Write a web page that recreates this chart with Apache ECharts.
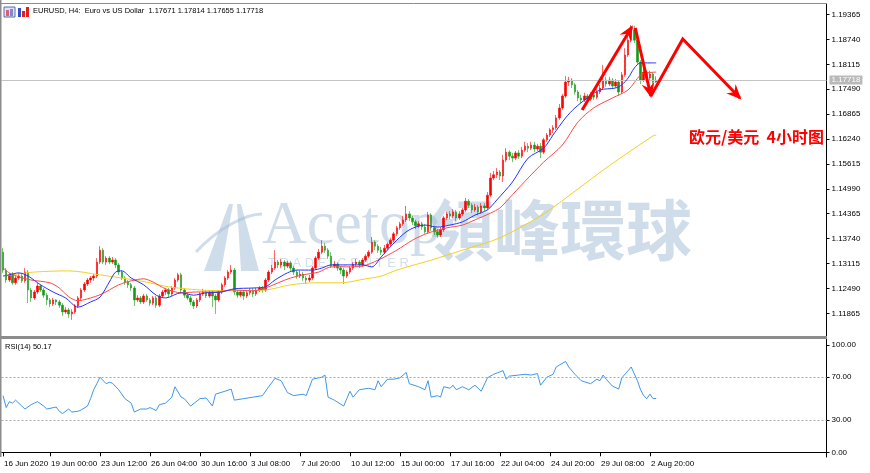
<!DOCTYPE html>
<html><head><meta charset="utf-8">
<script src="https://cdn.jsdelivr.net/npm/echarts@6/dist/echarts.min.js"></script>
<style>html,body{margin:0;padding:0;background:#fff}#c{width:870px;height:473px}</style>
</head><body><div id="c"></div>
<script>
// ---- tick labels ----
const priceTicks = [1.11865,1.12490,1.13115,1.13740,1.14365,1.14990,1.15615,1.16240,1.16865,1.17490,1.18115,1.18740,1.19365];
const rsiTicks = [0,30,70,100];
const rsiLevels = [30,70];
const timeLabels = [[0,'16 Jun 2020'],[15,'19 Jun 00:00'],[31,'23 Jun 12:00'],[47,'26 Jun 04:00'],[63,'30 Jun 16:00'],[79,'3 Jul 08:00'],[95,'7 Jul 20:00'],[111,'10 Jul 12:00'],[127,'15 Jul 00:00'],[143,'17 Jul 16:00'],[159,'22 Jul 04:00'],[175,'24 Jul 20:00'],[191,'29 Jul 08:00'],[207,'2 Aug 20:00']];
const slotCount = 264; // bar slots on the time axis incl. right margin
const lastQuote = {open:1.17671, high:1.17814, low:1.17655, close:1.17718};
const rsiLast = 50.17;
// ---- H4 candles [open, close, low, high] ----
const candles = [
[1.1340,1.1295,1.1288,1.1350],[1.1295,1.1270,1.1263,1.1300],[1.1270,1.1283,1.1265,1.1288],[1.1283,1.1263,1.1258,1.1290],[1.1263,1.1275,1.1258,1.1280],
[1.1275,1.1280,1.1270,1.1288],[1.1280,1.1268,1.1263,1.1285],[1.1268,1.1290,1.1263,1.1300],[1.1290,1.1245,1.1212,1.1295],[1.1245,1.1225,1.1215,1.1250],
[1.1225,1.1240,1.1220,1.1245],[1.1240,1.1255,1.1235,1.1263],[1.1255,1.1245,1.1240,1.1260],[1.1245,1.1232,1.1225,1.1250],[1.1232,1.1220,1.1207,1.1238],
[1.1220,1.1210,1.1202,1.1225],[1.1210,1.1220,1.1205,1.1225],[1.1220,1.1215,1.1207,1.1222],[1.1215,1.1207,1.1200,1.1220],[1.1207,1.1190,1.1180,1.1212],
[1.1190,1.1195,1.1185,1.1202],[1.1195,1.1185,1.1175,1.1200],[1.1185,1.1190,1.1170,1.1197],[1.1190,1.1205,1.1185,1.1210],[1.1205,1.1225,1.1200,1.1230],
[1.1225,1.1245,1.1220,1.1250],[1.1245,1.1260,1.1240,1.1265],[1.1260,1.1270,1.1255,1.1275],[1.1270,1.1275,1.1263,1.1280],[1.1275,1.1280,1.1268,1.1285],
[1.1280,1.1315,1.1275,1.1325],[1.1315,1.1345,1.1310,1.1355],[1.1345,1.1315,1.1310,1.1350],[1.1315,1.1325,1.1308,1.1330],[1.1325,1.1315,1.1310,1.1330],
[1.1315,1.1320,1.1310,1.1328],[1.1320,1.1308,1.1300,1.1325],[1.1308,1.1290,1.1283,1.1313],[1.1290,1.1275,1.1270,1.1295],[1.1275,1.1265,1.1258,1.1280],
[1.1265,1.1258,1.1250,1.1270],[1.1258,1.1250,1.1243,1.1263],[1.1250,1.1220,1.1205,1.1255],[1.1220,1.1225,1.1215,1.1232],[1.1225,1.1215,1.1210,1.1230],
[1.1215,1.1230,1.1210,1.1235],[1.1230,1.1220,1.1215,1.1235],[1.1220,1.1212,1.1205,1.1225],[1.1212,1.1225,1.1207,1.1230],[1.1225,1.1207,1.1200,1.1230],
[1.1207,1.1230,1.1202,1.1235],[1.1230,1.1240,1.1225,1.1245],[1.1240,1.1245,1.1232,1.1250],[1.1245,1.1235,1.1227,1.1250],[1.1235,1.1250,1.1230,1.1255],
[1.1250,1.1270,1.1245,1.1275],[1.1270,1.1283,1.1265,1.1288],[1.1283,1.1245,1.1238,1.1288],[1.1245,1.1232,1.1225,1.1250],[1.1232,1.1225,1.1220,1.1238],
[1.1225,1.1215,1.1207,1.1230],[1.1215,1.1205,1.1197,1.1220],[1.1205,1.1220,1.1200,1.1225],[1.1220,1.1235,1.1215,1.1240],[1.1235,1.1240,1.1230,1.1248],
[1.1240,1.1230,1.1225,1.1245],[1.1230,1.1238,1.1225,1.1245],[1.1238,1.1230,1.1202,1.1243],[1.1230,1.1220,1.1185,1.1235],[1.1220,1.1240,1.1215,1.1245],
[1.1240,1.1258,1.1235,1.1263],[1.1258,1.1275,1.1253,1.1280],[1.1275,1.1290,1.1270,1.1295],[1.1290,1.1295,1.1285,1.1308],[1.1295,1.1240,1.1232,1.1300],
[1.1240,1.1232,1.1225,1.1245],[1.1232,1.1240,1.1227,1.1245],[1.1240,1.1230,1.1220,1.1245],[1.1230,1.1238,1.1225,1.1243],[1.1238,1.1245,1.1232,1.1250],
[1.1245,1.1235,1.1227,1.1250],[1.1235,1.1245,1.1230,1.1250],[1.1245,1.1250,1.1240,1.1255],[1.1250,1.1245,1.1238,1.1255],[1.1245,1.1270,1.1240,1.1275],
[1.1270,1.1290,1.1265,1.1295],[1.1290,1.1300,1.1285,1.1308],[1.1300,1.1315,1.1295,1.1345],[1.1315,1.1308,1.1300,1.1320],[1.1308,1.1315,1.1300,1.1323],
[1.1315,1.1305,1.1295,1.1320],[1.1305,1.1313,1.1300,1.1318],[1.1313,1.1300,1.1293,1.1318],[1.1300,1.1290,1.1283,1.1305],[1.1290,1.1280,1.1273,1.1295],
[1.1280,1.1285,1.1275,1.1293],[1.1285,1.1275,1.1268,1.1290],[1.1275,1.1270,1.1260,1.1280],[1.1270,1.1275,1.1265,1.1283],[1.1275,1.1300,1.1270,1.1305],
[1.1300,1.1325,1.1295,1.1330],[1.1325,1.1340,1.1320,1.1348],[1.1340,1.1355,1.1335,1.1370],[1.1355,1.1345,1.1338,1.1363],[1.1345,1.1330,1.1323,1.1350],
[1.1330,1.1305,1.1300,1.1340],[1.1305,1.1310,1.1300,1.1318],[1.1310,1.1300,1.1293,1.1315],[1.1300,1.1295,1.1285,1.1305],[1.1295,1.1280,1.1260,1.1300],
[1.1280,1.1290,1.1275,1.1295],[1.1290,1.1300,1.1285,1.1305],[1.1300,1.1310,1.1295,1.1315],[1.1310,1.1315,1.1303,1.1323],[1.1315,1.1308,1.1300,1.1320],
[1.1308,1.1320,1.1303,1.1325],[1.1320,1.1330,1.1315,1.1335],[1.1330,1.1340,1.1325,1.1345],[1.1340,1.1365,1.1335,1.1378],[1.1365,1.1355,1.1345,1.1370],
[1.1355,1.1345,1.1338,1.1360],[1.1345,1.1340,1.1333,1.1353],[1.1340,1.1350,1.1335,1.1358],[1.1350,1.1360,1.1345,1.1365],[1.1360,1.1370,1.1355,1.1376],
[1.1370,1.1386,1.1365,1.1391],[1.1386,1.1401,1.1381,1.1406],[1.1401,1.1411,1.1396,1.1416],[1.1411,1.1421,1.1406,1.1431],[1.1421,1.1436,1.1416,1.1456],
[1.1436,1.1426,1.1418,1.1443],[1.1426,1.1416,1.1408,1.1431],[1.1416,1.1406,1.1398,1.1421],[1.1406,1.1411,1.1401,1.1418],[1.1411,1.1403,1.1396,1.1416],
[1.1403,1.1391,1.1386,1.1411],[1.1391,1.1433,1.1386,1.1441],[1.1433,1.1401,1.1393,1.1438],[1.1401,1.1391,1.1383,1.1406],[1.1391,1.1383,1.1376,1.1398],
[1.1383,1.1396,1.1378,1.1403],[1.1396,1.1426,1.1391,1.1431],[1.1426,1.1436,1.1421,1.1441],[1.1436,1.1431,1.1423,1.1443],[1.1431,1.1441,1.1426,1.1448],
[1.1441,1.1426,1.1418,1.1446],[1.1426,1.1436,1.1421,1.1443],[1.1436,1.1446,1.1431,1.1451],[1.1446,1.1468,1.1441,1.1476],[1.1468,1.1458,1.1451,1.1473],
[1.1458,1.1446,1.1438,1.1463],[1.1446,1.1453,1.1441,1.1461],[1.1453,1.1441,1.1433,1.1458],[1.1441,1.1456,1.1436,1.1463],[1.1456,1.1451,1.1443,1.1463],
[1.1451,1.1483,1.1446,1.1491],[1.1483,1.1526,1.1478,1.1539],[1.1526,1.1534,1.1521,1.1544],[1.1534,1.1541,1.1526,1.1551],[1.1541,1.1531,1.1521,1.1546],
[1.1531,1.1571,1.1516,1.1584],[1.1571,1.1591,1.1566,1.1601],[1.1591,1.1581,1.1571,1.1596],[1.1581,1.1576,1.1566,1.1589],[1.1576,1.1589,1.1571,1.1594],
[1.1589,1.1581,1.1574,1.1596],[1.1581,1.1596,1.1576,1.1604],[1.1596,1.1606,1.1591,1.1617],[1.1606,1.1601,1.1591,1.1614],[1.1601,1.1609,1.1596,1.1617],
[1.1609,1.1599,1.1591,1.1617],[1.1599,1.1606,1.1594,1.1612],[1.1606,1.1591,1.1576,1.1614],[1.1591,1.1622,1.1586,1.1627],[1.1622,1.1634,1.1617,1.1639],
[1.1634,1.1647,1.1629,1.1652],[1.1647,1.1652,1.1639,1.1659],[1.1652,1.1677,1.1647,1.1684],[1.1677,1.1702,1.1672,1.1712],[1.1702,1.1732,1.1697,1.1737],
[1.1732,1.1767,1.1727,1.1782],[1.1767,1.1772,1.1757,1.1780],[1.1772,1.1760,1.1752,1.1777],[1.1760,1.1742,1.1735,1.1765],[1.1742,1.1727,1.1719,1.1747],
[1.1727,1.1722,1.1714,1.1735],[1.1722,1.1732,1.1717,1.1740],[1.1732,1.1724,1.1717,1.1737],[1.1724,1.1735,1.1719,1.1742],[1.1735,1.1729,1.1722,1.1742],
[1.1729,1.1742,1.1724,1.1750],[1.1742,1.1752,1.1737,1.1760],[1.1752,1.1772,1.1747,1.1810],[1.1772,1.1762,1.1755,1.1780],[1.1762,1.1772,1.1757,1.1780],
[1.1772,1.1757,1.1750,1.1777],[1.1757,1.1767,1.1752,1.1775],[1.1767,1.1742,1.1732,1.1772],[1.1742,1.1785,1.1737,1.1792],[1.1785,1.1835,1.1780,1.1852],
[1.1835,1.1872,1.1830,1.1885],[1.1872,1.1898,1.1867,1.1910],[1.1898,1.1872,1.1865,1.1908],[1.1872,1.1817,1.1810,1.1878],[1.1817,1.1772,1.1762,1.1822],
[1.1772,1.1792,1.1767,1.1800],[1.1792,1.1777,1.1770,1.1797],[1.1777,1.1787,1.1772,1.1795],[1.1787,1.1767,1.1762,1.1792],[1.17671,1.17718,1.17655,1.17814]
];
// ---- moving averages [bar, price] ----
const maFast = [[0,1.1280],[2,1.1283],[5,1.1288],[8,1.1280],[12,1.1258],[16,1.1240],[20,1.1225],[24,1.1202],[28,1.1215],[31,1.1227],[34,1.1265],[36,1.1290],[38,1.1293],[41,1.1275],[45,1.1258],[49,1.1232],[52,1.1225],[57,1.1238],[61,1.1232],[65,1.1238],[70,1.1240],[74,1.1248],[80,1.1250],[84,1.1253],[87,1.1270],[91,1.1288],[94,1.1295],[99,1.1295],[102,1.1300],[105,1.1308],[109,1.1308],[115,1.1308],[118,1.1303],[121,1.1328],[126,1.1370],[130,1.1396],[135,1.1408],[139,1.1403],[143,1.1408],[147,1.1416],[151,1.1433],[155,1.1446],[158,1.1471],[163,1.1516],[168,1.1576],[173,1.1601],[176,1.1634],[180,1.1677],[183,1.1702],[187,1.1727],[191,1.1747],[196,1.1752],[198,1.1760],[200,1.1777],[202,1.1802],[204,1.1815],[209,1.1815]];
const maMid = [[0,1.1300],[2,1.1288],[5,1.1278],[9,1.1270],[15,1.1263],[18,1.1250],[21,1.1228],[24,1.1218],[28,1.1225],[31,1.1233],[34,1.1245],[37,1.1258],[41,1.1268],[45,1.1273],[48,1.1265],[52,1.1248],[57,1.1238],[62,1.1240],[68,1.1240],[73,1.1245],[80,1.1243],[84,1.1250],[88,1.1263],[92,1.1275],[96,1.1283],[101,1.1290],[105,1.1303],[110,1.1303],[115,1.1305],[120,1.1320],[126,1.1345],[131,1.1370],[136,1.1388],[142,1.1401],[147,1.1408],[151,1.1421],[156,1.1438],[159,1.1451],[163,1.1484],[168,1.1526],[173,1.1566],[179,1.1609],[184,1.1667],[189,1.1702],[195,1.1727],[200,1.1747],[204,1.1785],[206,1.1790],[209,1.1792]];
const maSlow = [[0,1.1280],[10,1.1290],[21,1.1293],[31,1.1283],[42,1.1270],[47,1.1263],[53,1.1253],[63,1.1245],[72,1.1243],[84,1.1245],[92,1.1258],[100,1.1263],[108,1.1263],[116,1.1273],[121,1.1280],[126,1.1295],[137,1.1320],[147,1.1345],[159,1.1376],[173,1.1436],[184,1.1499],[194,1.1557],[208,1.1632],[209,1.1634]];
// ---- RSI(14) [bar, value] ----
const rsi = [[0,52.8],[1,41.7],[2,47.2],[3,45.8],[4,48.6],[6,43.1],[7,40.3],[9,44.4],[10,45.8],[11,47.2],[13,43.1],[14,40.3],[17,42.2],[18,38.3],[19,36.1],[21,40.3],[22,37.5],[24,38.3],[25,39.4],[27,43.1],[28,50],[29,58.3],[30,63.9],[31,70],[33,63.9],[34,65.3],[35,64.4],[37,58.3],[39,50],[41,45.8],[42,37.5],[44,40.3],[46,40.3],[47,41.7],[49,38.9],[50,44.4],[52,45.8],[54,51.4],[55,61.1],[57,51.4],[58,50],[60,43.1],[63,50],[65,50.6],[67,43.1],[68,54.2],[71,56.9],[73,58.9],[74,48.6],[77,50],[80,51.4],[83,52.8],[85,61.1],[87,68.9],[89,66.7],[91,55.6],[93,52.8],[96,54.2],[97,52.8],[99,68.1],[102,70],[103,72],[104,51.4],[106,48.6],[109,43.1],[110,50],[111,56.9],[112,51.4],[114,58.3],[117,59.7],[119,58.3],[120,66.7],[121,61.1],[123,68.1],[125,68.1],[127,69.4],[129,74.4],[130,63.9],[133,61.1],[135,58.3],[136,66.7],[137,51.4],[139,52.8],[140,51.4],[141,61.1],[143,59.7],[144,62.5],[145,58.3],[147,61.1],[149,58.3],[151,62.5],[153,56.9],[155,69.4],[157,72.7],[160,76.1],[161,68.1],[162,71],[165,72],[167,72.7],[169,72],[171,73.4],[172,62.5],[174,70],[176,72.7],[177,79.5],[178,81.3],[180,84.7],[181,79.5],[183,72.7],[185,66.7],[188,63.9],[190,68.1],[191,66.7],[192,72],[193,68.1],[195,61.7],[197,58.9],[198,69.4],[200,76.1],[201,79.5],[203,66.7],[204,58.3],[205,52.8],[206,50],[207,54.2],[208,50],[209,50.17]];
// ---- hand-drawn forecast arrows [bar slot, price] ----
const arrows = [
  [[185.3,1.1697],[201.2,1.1905]],
  [[202.3,1.1903],[207.3,1.1732]],
  [[207.3,1.1732],[217.5,1.1875],[235.8,1.1727]]
];

const slots = Array.from({length:slotCount},(_,i)=>String(i));
const labelMap = new Map(timeLabels);
const FONT = '"Liberation Sans", Arial, sans-serif';

const chart = echarts.init(document.getElementById('c'), null, {renderer:'canvas'});
const option = {
  animation:false,
  backgroundColor:'#fff',
  grid:[
    {left:1.5, top:4, width:825, height:332},
    {left:1.5, top:339, width:825, height:118}
  ],
  xAxis:[
    {type:'category', gridIndex:0, data:slots, show:false, boundaryGap:true},
    {type:'category', gridIndex:1, data:slots, boundaryGap:true,
     axisLine:{show:true, lineStyle:{color:'#000', width:1}},
     axisTick:{show:true, alignWithLabel:true, length:4, interval:(i)=>labelMap.has(i), lineStyle:{color:'#000'}},
     axisLabel:{show:true, interval:(i)=>labelMap.has(i), formatter:(v,i)=>labelMap.get(+v)||'', align:'left', color:'#000', fontSize:8, fontFamily:FONT, margin:3, padding:[0,0,0,1]}
    }
  ],
  yAxis:[
    {type:'value', gridIndex:0, position:'right', min:1.112952, max:1.196286,
     axisLine:{show:true, lineStyle:{color:'#000', width:1}},
     axisTick:{show:true, length:3, customValues:priceTicks, lineStyle:{color:'#000'}},
     axisLabel:{customValues:priceTicks, formatter:(v)=>v.toFixed(5), color:'#000', fontSize:8, fontFamily:FONT, margin:5},
     splitLine:{show:false}},
    {type:'value', gridIndex:1, position:'right', min:-4.38, max:105.59,
     axisLine:{show:true, lineStyle:{color:'#000', width:1}},
     axisTick:{show:true, length:3, customValues:rsiTicks, lineStyle:{color:'#000'}},
     axisLabel:{customValues:rsiTicks, formatter:(v)=>v.toFixed(2), color:'#000', fontSize:8, fontFamily:FONT, margin:5},
     splitLine:{show:false}}
  ],
  series:[
    {type:'candlestick', xAxisIndex:0, yAxisIndex:0, data:candles, barWidth:2, z:2,
     itemStyle:{color:'#ff0000', color0:'#159a15', borderColor:'#ff0000', borderColor0:'#159a15', borderWidth:0.6}
    },
    {type:'line', xAxisIndex:0, yAxisIndex:0, data:maSlow, showSymbol:false, smooth:0.3, z:3, lineStyle:{color:'#f2d21e', width:1},
     markLine:{silent:true, symbol:'none', animation:false, precision:5,
       data:[{yAxis:lastQuote.close}],
       lineStyle:{color:'#c4c4c4', type:'solid', width:1},
       label:{show:true, position:'end', formatter:lastQuote.close.toFixed(5), backgroundColor:'#b9b9b9', color:'#fff', fontSize:8, fontFamily:FONT, padding:[1,2,0,2], distance:3}}
    },
    {type:'line', xAxisIndex:0, yAxisIndex:0, data:maMid, showSymbol:false, smooth:0.3, z:4, lineStyle:{color:'#ff4848', width:1}},
    {type:'line', xAxisIndex:0, yAxisIndex:0, data:maFast, showSymbol:false, smooth:0.3, z:5, lineStyle:{color:'#2233ff', width:1}},
    {type:'line', xAxisIndex:1, yAxisIndex:1, data:rsi, showSymbol:false, z:3, lineStyle:{color:'#3f97e8', width:1},
     markLine:{silent:true, symbol:'none', animation:false, label:{show:false},
       data:rsiLevels.map(v=>({yAxis:v})), lineStyle:{color:'#a9a9a9', type:[2,2], width:1}}}
  ]
};
chart.setOption(option);

// ---- annotations placed through the axes ----
function px(slot, price){
  const f = Math.floor(slot), t = slot - f;
  const a = chart.convertToPixel({gridIndex:0}, [f, price]);
  const b = chart.convertToPixel({gridIndex:0}, [f+1, price]);
  return [a[0] + (b[0]-a[0])*t, a[1]];
}
function head(tip, from, len, half){
  const dx = tip[0]-from[0], dy = tip[1]-from[1], d = Math.hypot(dx,dy);
  const ux = dx/d, uy = dy/d;
  const bx = tip[0]-ux*len, by = tip[1]-uy*len;
  return [[tip[0]+ux*2, tip[1]+uy*2],[bx-uy*half, by+ux*half],[tip[0]-ux*len*0.6, tip[1]-uy*len*0.6],[bx+uy*half, by-ux*half]];
}
const RED = '#ff0000';
const WM = 'rgba(160,188,214,0.5)';
const g = [];
// watermark (behind)
g.push({type:'polygon', z:0, shape:{points:[[204,271],[229,204],[233,204],[221,271]]}, style:{fill:WM}});
g.push({type:'polygon', z:0, shape:{points:[[237,204],[241,204],[259,271],[241,271]]}, style:{fill:WM}});
g.push({type:'bezierCurve', z:0, shape:{x1:196,y1:252,x2:262,y2:214,cpx1:218,cpy1:228,cpx2:246,cpy2:214}, style:{stroke:WM, lineWidth:3, fill:null}});
g.push({type:'text', z:0, left:262, top:196, style:{text:'Acetop', font:'62px "Liberation Serif", serif', fill:WM}});
g.push({type:'text', z:0, left:268, top:257, style:{text:'T R A D E   C E N T E R', font:'13px "Liberation Sans", sans-serif', fill:'rgba(170,190,212,0.5)'}});
g.push({type:'text', z:0, left:428, top:197, style:{text:'領峰環球', font:'bold 66px "Noto Sans CJK TC", sans-serif', fill:WM}});
// frame
g.push({type:'rect', z:10, shape:{x:0,y:336,width:827,height:3}, style:{fill:'#8c8c8c'}});
g.push({type:'rect', z:10, shape:{x:0,y:0,width:1.5,height:457}, style:{fill:'#8c8c8c'}});
g.push({type:'line', z:10, shape:{x1:0,y1:3.5,x2:827,y2:3.5}, style:{stroke:'#8c8c8c', lineWidth:1}});
// header
g.push({type:'rect', z:10, shape:{x:4,y:7,width:11,height:10}, style:{fill:'#dfe3f3', stroke:'#5a6aa8', lineWidth:1}});
g.push({type:'rect', z:10, shape:{x:6,y:10,width:3,height:6}, style:{fill:'#e05a7a'}});
g.push({type:'rect', z:10, shape:{x:10,y:9,width:3,height:7}, style:{fill:'#7a8ad0'}});
g.push({type:'rect', z:10, shape:{x:18,y:8,width:3,height:9}, style:{fill:'#2c4fd6'}});
g.push({type:'rect', z:10, shape:{x:22,y:11,width:3,height:6}, style:{fill:'#e02020'}});
g.push({type:'rect', z:10, shape:{x:26,y:7,width:3,height:10}, style:{fill:'#e02020'}});
g.push({type:'text', z:10, left:33, top:7, style:{text:'EURUSD, H4:  Euro vs US Dollar  ' + [lastQuote.open,lastQuote.high,lastQuote.low,lastQuote.close].map(v=>v.toFixed(5)).join(' '), font:'7.5px "Liberation Sans", Arial, sans-serif', fill:'#000'}});
g.push({type:'text', z:10, left:5, top:343, style:{text:'RSI(14) ' + rsiLast.toFixed(2), font:'7.5px "Liberation Sans", Arial, sans-serif', fill:'#000'}});
// arrows
arrows.forEach((path) => {
  const pts = path.map(p => px(p[0], p[1]));
  g.push({type:'polyline', z:50, shape:{points:pts}, style:{stroke:RED, lineWidth:3, lineJoin:'miter', fill:null}});
  const n = pts.length;
  g.push({type:'polygon', z:50, shape:{points:head(pts[n-1], pts[n-2], 13, 6.5)}, style:{fill:RED}});
});
g.push({type:'text', z:50, left:689, top:129, style:{text:'欧元/美元  4小时图', font:'bold 16px "Noto Sans CJK SC", sans-serif', fill:RED}});
chart.setOption({graphic:g});
</script></body></html>
